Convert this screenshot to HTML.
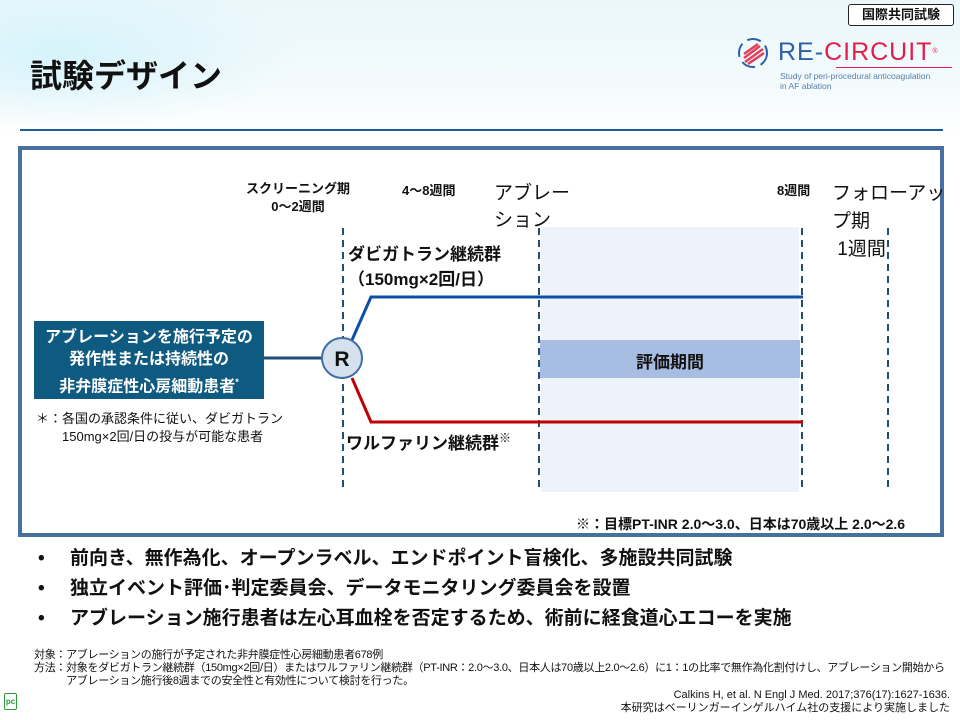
<!DOCTYPE html>
<html><head><meta charset="utf-8"><style>
body{margin:0}
#p{position:relative;width:960px;height:720px;overflow:hidden;font-family:"Liberation Sans","Noto Sans CJK JP",sans-serif;background:linear-gradient(180deg,#eaf7fb 0px,#f4fbfd 90px,#fff 135px);color:#111}
.a{position:absolute;white-space:nowrap}
.b{font-weight:bold}
</style></head><body><div id="p">
<div class="a" style="left:0;top:0;width:300px;height:130px;background:radial-gradient(ellipse at 20% 40%,#d6f3fb,rgba(255,255,255,0) 70%)"></div>
<div class="a b" style="left:848px;top:4px;width:104px;height:20px;border:1px solid #222;border-radius:3px;background:#fff;font-size:13px;line-height:20px;text-align:center">国際共同試験</div>
<svg class="a" style="left:736px;top:36px" width="34" height="34"><circle cx="17" cy="17" r="14" fill="none" stroke="#2d5fa8" stroke-width="2" stroke-dasharray="14 6"/><path d="M8 22 L24 10 M9 26 L27 13 M12 28 L28 17 M8 18 L22 8" stroke="#e0405a" stroke-width="2.5"/></svg>
<div class="a" style="left:778px;top:38px;font-size:25px;letter-spacing:1px;line-height:28px"><span style="color:#2d5fa8">RE-</span><span style="color:#e21d4a">CIRCUIT</span><sup style="color:#e21d4a;font-size:7px;vertical-align:top">®</sup></div>
<div class="a" style="left:836px;top:67px;width:116px;height:1px;background:#e21d4a"></div>
<div class="a" style="left:780px;top:71px;font-size:8.5px;color:#5a7ea8;line-height:10px">Study of peri-procedural anticoagulation<br>in AF ablation</div>
<div class="a b" style="left:30px;top:54px;font-size:32px;line-height:44px">試験デザイン</div>
<div class="a" style="left:20px;top:129px;width:923px;height:2px;background:#1f5a9a"></div>
<div class="a" style="left:18px;top:146px;width:918px;height:383px;border:4px solid #48709f;background:#fff"></div>
<svg class="a" style="left:0;top:0" width="960" height="720">
<rect x="541" y="227" width="258" height="265" fill="#eef2fa"/>
<rect x="540" y="340" width="260" height="38" fill="#a8bde2"/>
<g stroke="#1f4e79" stroke-width="2" stroke-dasharray="7 5">
<line x1="343" y1="228" x2="343" y2="487"/><line x1="539" y1="228" x2="539" y2="487"/><line x1="802" y1="228" x2="802" y2="487"/><line x1="888" y1="228" x2="888" y2="487"/></g>
<polyline points="352,340 371,297 803,297" fill="none" stroke="#0b4faa" stroke-width="3"/>
<polyline points="352,378 371,422 803,422" fill="none" stroke="#c00000" stroke-width="3"/>
<line x1="264" y1="358" x2="322" y2="358" stroke="#1f4e79" stroke-width="3"/>
<circle cx="342" cy="358" r="20" fill="#d5e1ec" stroke="#3f6ea8" stroke-width="2"/>
<text x="342" y="366" text-anchor="middle" font-size="21" font-weight="bold" font-family="Liberation Sans,sans-serif" fill="#111">R</text>
</svg>
<div class="a b" style="left:34px;top:321px;width:230px;height:78px;background:#0f5a80;color:#fff;font-size:16px;line-height:22px;text-align:center;padding-top:6px;box-sizing:border-box">アブレーションを施行予定の<br>発作性または持続性の<br>非弁膜症性心房細動患者<sup style="font-size:9px">*</sup></div>
<div class="a" style="left:36px;top:410px;font-size:13px;line-height:18px">＊：各国の承認条件に従い、ダビガトラン<br>　　150mg×2回/日の投与が可能な患者</div>
<div class="a b" style="left:246px;top:180px;font-size:13px;line-height:18px;text-align:center">スクリーニング期<br>0～2週間</div>
<div class="a b" style="left:402px;top:180px;font-size:13px">4～8週間</div>
<div class="a" style="left:494px;top:180px;font-size:19px;line-height:27px">アブレー<br>ション</div>
<div class="a b" style="left:777px;top:180px;font-size:13px">8週間</div>
<div class="a" style="left:832px;top:180px;font-size:19px;line-height:28px">フォローアッ<br>プ期<br>&nbsp;1週間</div>
<div class="a b" style="left:348px;top:242px;font-size:17px;line-height:25px">ダビガトラン継続群<br>（150mg×2回/日）</div>
<div class="a b" style="left:346px;top:429px;font-size:17px">ワルファリン継続群<span style="font-size:12px;vertical-align:top">※</span></div>
<div class="a b" style="left:540px;top:348px;width:260px;text-align:center;font-size:17px">評価期間</div>
<div class="a b" style="left:576px;top:514px;font-size:14px">※：目標PT-INR 2.0～3.0、日本は70歳以上  2.0～2.6</div>
<div class="a b" style="left:38px;top:544px;font-size:19px;line-height:30px">•<br>•<br>•</div>
<div class="a b" style="left:70px;top:544px;font-size:19px;line-height:30px">前向き、無作為化、オープンラベル、エンドポイント盲検化、多施設共同試験<br>独立イベント評価･判定委員会、データモニタリング委員会を設置<br>アブレーション施行患者は左心耳血栓を否定するため、術前に経食道心エコーを実施</div>
<div class="a" style="left:34px;top:649px;font-size:11px;line-height:13px;letter-spacing:-0.3px">対象：アブレーションの施行が予定された非弁膜症性心房細動患者678例<br>方法：対象をダビガトラン継続群（150mg×2回/日）またはワルファリン継続群（PT-INR：2.0～3.0、日本人は70歳以上2.0～2.6）に1：1の比率で無作為化割付けし、アブレーション開始から<br>　　　アブレーション施行後8週までの安全性と有効性について検討を行った。</div>
<div class="a" style="left:4px;top:693px;width:11px;height:15px;border:1.5px solid #2a9a3a;border-radius:2px;color:#2a9a3a;font-size:8px;font-weight:bold;line-height:15px;text-align:center">pc</div>
<div class="a" style="right:10px;top:689px;font-size:11px;line-height:13px;text-align:right">Calkins H, et  al. N Engl J Med. 2017;376(17):1627-1636.<br>本研究はベーリンガーインゲルハイム社の支援により実施しました</div>
</div></body></html>
